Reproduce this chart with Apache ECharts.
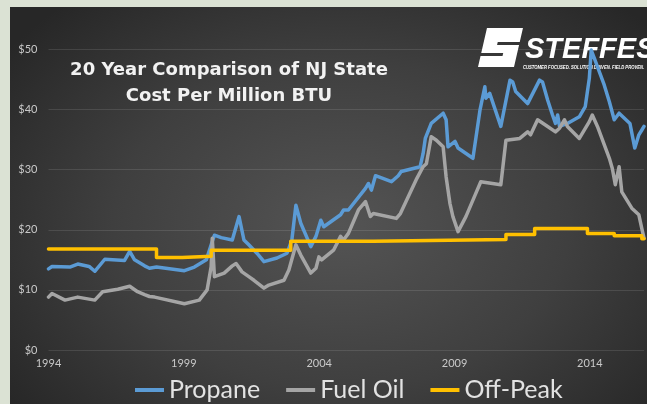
<!DOCTYPE html>
<html><head><meta charset="utf-8">
<script src="https://cdn.jsdelivr.net/npm/echarts@6/dist/echarts.min.js"></script>
<style>
html,body{margin:0;padding:0;background:#dbe2d4;width:647px;height:404px;overflow:hidden;}
#chart{position:absolute;left:10px;top:7px;width:637px;height:397px;
background:radial-gradient(ellipse 65% 75% at 52% 55%, #545454 0%, #3f3f3f 55%, #272727 100%);}
</style></head><body><div id="chart"></div>
<script>
const startYear = 1994;
const xTickLabels = ['1994', '1999', '2004', '2009', '2014'];
const yTickLabels = ['$0', '$10', '$20', '$30', '$40', '$50'];
const seriesNames = ['Propane', 'Fuel Oil', 'Off-Peak'];
const titleLines = ['20 Year Comparison of NJ State', 'Cost Per Million BTU'];

const propane = [
  [1994.00,13.5],[1994.13,13.9],[1994.79,13.8],[1995.08,14.3],[1995.50,13.9],[1995.71,13.1],
  [1996.08,15.1],[1996.81,14.9],[1997.00,16.4],[1997.18,15.0],[1997.55,14.0],[1997.73,13.6],
  [1997.99,13.8],[1999.02,13.2],[1999.39,13.8],[1999.83,15.0],[2000.01,17.5],[2000.13,19.1],
  [2000.38,18.7],[2000.79,18.3],[2001.04,22.2],[2001.22,18.3],[2001.40,17.5],[2001.70,16.1],
  [2001.96,14.7],[2002.44,15.3],[2002.81,16.1],[2002.99,18.3],[2003.14,24.1],[2003.32,21.1],
  [2003.69,17.2],[2003.88,18.9],[2004.06,21.6],[2004.17,20.5],[2004.79,22.5],[2004.90,23.3],
  [2005.08,23.3],[2005.71,26.9],[2005.82,27.7],[2005.93,26.6],[2006.08,29.0],[2006.67,28.0],
  [2006.92,29.0],[2007.03,29.7],[2007.73,30.5],[2007.84,32.7],[2007.92,35.2],[2008.14,37.7],
  [2008.58,39.4],[2008.69,38.3],[2008.76,33.8],[2009.02,34.7],[2009.13,33.6],[2009.68,31.9],
  [2009.94,39.9],[2010.12,43.8],[2010.16,41.9],[2010.30,42.7],[2010.71,37.2],[2011.05,44.9],
  [2011.15,44.6],[2011.26,43.0],[2011.70,41.0],[2012.14,44.9],[2012.25,44.6],[2012.44,41.6],
  [2012.62,39.1],[2012.73,37.7],[2012.81,39.1],[2012.88,37.2],[2013.17,37.7],[2013.61,38.8],
  [2013.83,40.5],[2013.98,45.2],[2014.05,49.9],[2014.17,48.5],[2014.53,44.1],[2014.72,41.3],
  [2014.90,38.3],[2015.08,39.4],[2015.48,37.7],[2015.66,33.6],[2015.81,35.8],[2015.92,36.6],
  [2016.00,37.2]
];
const fuelOil = [
  [1994.00,8.8],[1994.13,9.4],[1994.61,8.3],[1995.08,8.8],[1995.71,8.3],[1996.00,9.7],
  [1996.56,10.1],[1997.00,10.6],[1997.29,9.7],[1997.55,9.2],[1997.73,8.9],[1997.92,8.8],
  [1999.02,7.7],[1999.57,8.3],[1999.86,10.0],[2000.01,13.9],[2000.05,18.6],[2000.13,12.2],
  [2000.49,12.8],[2000.79,14.0],[2000.93,14.4],[2001.15,13.0],[2001.40,12.2],[2001.59,11.6],
  [2001.96,10.3],[2002.14,10.8],[2002.70,11.6],[2002.88,13.3],[2003.14,17.5],[2003.32,15.8],
  [2003.69,12.8],[2003.88,13.6],[2003.99,15.5],[2004.09,15.0],[2004.53,16.6],[2004.79,18.9],
  [2004.90,18.3],[2005.08,19.4],[2005.45,23.3],[2005.71,24.7],[2005.89,22.2],[2006.00,22.7],
  [2006.85,21.9],[2007.00,22.7],[2007.58,28.3],[2007.84,30.5],[2007.96,31.0],[2008.14,35.5],
  [2008.33,34.9],[2008.58,33.8],[2008.69,28.8],[2008.83,24.4],[2008.94,22.2],[2009.13,19.7],
  [2009.42,22.2],[2009.79,26.1],[2009.97,28.0],[2010.71,27.5],[2010.90,34.9],[2011.41,35.2],
  [2011.70,36.3],[2011.81,35.8],[2012.07,38.3],[2012.44,37.2],[2012.73,36.3],[2012.88,36.9],
  [2013.06,38.3],[2013.17,37.2],[2013.61,35.2],[2013.98,38.0],[2014.09,39.1],[2014.28,37.2],
  [2014.72,31.9],[2014.83,30.2],[2014.94,27.5],[2015.08,30.5],[2015.18,26.3],[2015.55,23.6],
  [2015.81,22.5],[2015.92,20.2],[2016.00,18.6]
];
const offPeak = [
  [1994.00,16.8],[1997.99,15.4],[1998.94,15.6],[2000.01,16.6],[2002.95,18.1],[2006.00,18.4],
  [2010.90,19.2],[2011.96,20.2],[2013.91,19.4],[2014.90,19.0],[2015.92,18.5],[2016.00,18.5]
];

const toOffset = arr => arr.map(p => [p[0] - startYear, p[1]]);
const OX = 10, OY = 7;
const P = (x, y) => [x - OX, y - OY];

// Stylised S mark of the logo
const L = y => 478 + 0.23 * (67 - y);
const R = y => L(y) + 36;
const sMark = [
  P(L(28),28), P(R(28),28), P(R(42),42), P(L(42)+14,42), P(L(45)+14,45), P(R(45),45),
  P(R(67),67), P(L(67),67), P(L(56),56), P(R(56)-14,56), P(R(53)-14,53), P(L(53),53)
];

const chart = echarts.init(document.getElementById('chart'), null, {renderer: 'canvas'});
const colors = ['#5b9bd5', '#a5a5a5', '#ffc000'];
const datasets = [propane, fuelOil, offPeak];

chart.setOption({
  animation: false,
  backgroundColor: 'transparent',
  textStyle: {fontFamily: 'Lato'},
  grid: {left: 38.5, right: 0, top: 42.5, bottom: 54, containLabel: false},
  xAxis: {
    type: 'value', min: 0, max: 22, interval: 5,
    axisLine: {show: false}, axisTick: {show: false}, splitLine: {show: false},
    axisLabel: {
      margin: 8, color: '#c9c9c9', fontSize: 11, fontFamily: 'Lato',
      formatter: v => (Number.isInteger(v / 5) && xTickLabels[v / 5]) ? xTickLabels[v / 5] : ''
    }
  },
  yAxis: {
    type: 'value', min: 0, max: 50, interval: 10,
    axisLine: {show: false}, axisTick: {show: false},
    splitLine: {lineStyle: {color: 'rgba(255,255,255,0.11)', width: 1}},
    axisLabel: {margin: 11, color: '#c9c9c9', fontSize: 11, fontFamily: 'Lato',
      formatter: v => yTickLabels[Math.round(v / 10)]}
  },
  legend: {
    data: seriesNames, icon: 'rect', itemWidth: 29, itemHeight: 4, itemGap: 26,
    left: 125, top: 368, padding: 0,
    textStyle: {color: '#e2e2e2', fontSize: 25, lineHeight: 30, fontFamily: 'Lato'}
  },
  graphic: [
    {type: 'polygon', z: 1, shape: {points: sMark}, style: {fill: '#ffffff'}},
    {type: 'text', z: 1, x: 525 - OX, y: 49.5 - OY,
      style: {text: 'STEFFES', fill: '#ffffff', font: 'italic bold 29px "Liberation Sans"',
        align: 'left', verticalAlign: 'middle'}},
    {type: 'text', z: 1, x: 523 - OX, y: 67 - OY, scaleX: 0.7,
      style: {text: 'CUSTOMER FOCUSED. SOLUTION DRIVEN. FIELD PROVEN.', fill: '#ffffff',
        font: 'italic bold 6px "Liberation Sans"', align: 'left', verticalAlign: 'middle'}},
    {type: 'text', z: 5, x: 229 - OX, y: 70.7 - OY,
      style: {text: titleLines[0], fill: '#f2f2f2', font: 'bold 18px "DejaVu Sans"',
        align: 'center', verticalAlign: 'middle',
        shadowColor: 'rgba(0,0,0,0.7)', shadowBlur: 3, shadowOffsetX: 1, shadowOffsetY: 1}},
    {type: 'text', z: 5, x: 229 - OX, y: 96.7 - OY,
      style: {text: titleLines[1], fill: '#f2f2f2', font: 'bold 18px "DejaVu Sans"',
        align: 'center', verticalAlign: 'middle',
        shadowColor: 'rgba(0,0,0,0.7)', shadowBlur: 3, shadowOffsetX: 1, shadowOffsetY: 1}}
  ],
  series: seriesNames.map((name, i) => ({
    name, type: 'line', data: toOffset(datasets[i]),
    step: i === 2 ? 'end' : false,
    showSymbol: false, symbol: 'none', smooth: false, clip: true,
    lineStyle: {color: colors[i], width: 3.5, cap: 'round', join: 'round'},
    itemStyle: {color: colors[i]},
    emphasis: {disabled: true}
  }))
});
</script></body></html>
